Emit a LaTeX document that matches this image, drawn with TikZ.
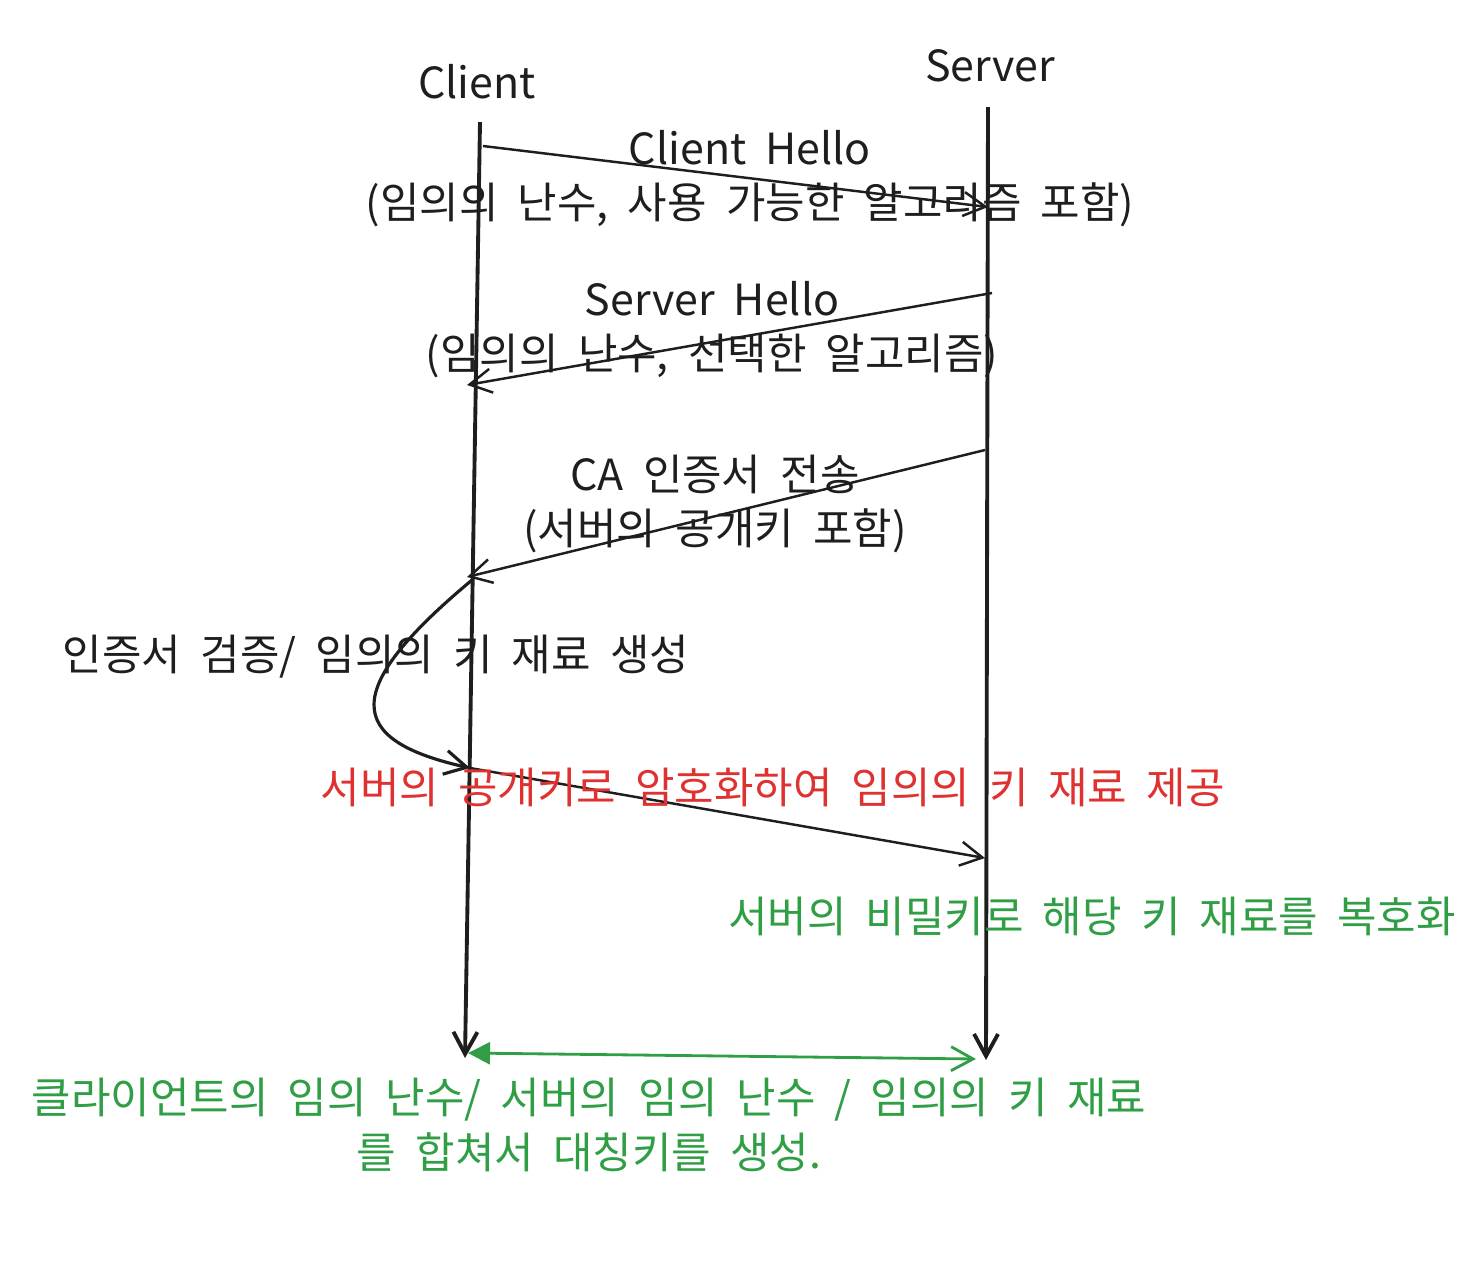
\documentclass[tikz,border=0pt]{standalone}
\usepackage{fontspec}
\setmainfont{Noto Sans CJK KR}[WordSpace=2.0]
\usetikzlibrary{arrows.meta}
\definecolor{inkblack}{HTML}{1E1E1E}
\definecolor{inkred}{HTML}{E03131}
\definecolor{inkgreen}{HTML}{2F9E44}
\tikzset{
  actor/.style={font=\fontsize{12.2}{15}\selectfont, text=inkblack},
  msglabel/.style={font=\fontsize{12.2}{15.4}\selectfont, align=center, text=inkblack, inner sep=0pt},
  lifeline/.style={draw=inkblack, line width=1.1pt, -{Straight Barb[length=2.2mm,width=2.4mm]}},
  msg/.style={draw=inkblack, line width=0.7pt, -{Straight Barb[length=2.2mm,width=2.4mm]}},
}
\begin{document}
\begin{tikzpicture}[x=0.01cm, y=-0.01cm]
\useasboundingbox (0,0) rectangle (1466,1278);
% actors
\node[actor] (client) at (477,82) {Client};
\node[actor] (server) at (990,66) {Server};
\coordinate (cTop) at (480,122);
\coordinate (cBot) at (465,1058);
\coordinate (sTop) at (988,107);
\coordinate (sBot) at (986,1060);
\draw[lifeline] (cTop) -- (cBot);
\draw[lifeline] (sTop) -- (sBot);
% messages
\coordinate (m1a) at (483,146);
\coordinate (m1b) at (988,207);
\coordinate (m2a) at (992,293);
\coordinate (m2b) at (467,385);
\coordinate (m3a) at (985,450);
\coordinate (m3b) at (467,577);
\coordinate (m4a) at (470,768);
\coordinate (m4b) at (985,858);
\draw[msg] (m1a) -- (m1b);
\draw[msg] (m2a) -- (m2b);
\draw[msg] (m3a) -- (m3b);
\draw[msg, line width=0.9pt] (472,580) .. controls (340,690) and (345,740) .. (m4a);
\draw[msg] (m4a) -- (m4b);
\node[msglabel] (hello1) at (750,179) {Client Hello\\(임의의 난수, 사용 가능한 알고리즘 포함)};
\node[msglabel] (hello2) at (712,330) {Server Hello\\(임의의 난수, 선택한 알고리즘)};
\node[msglabel] (cert) at (715,504) {CA 인증서 전송\\(서버의 공개키 포함)};
\node[msglabel] (verify) at (376,657) {인증서 검증/ 임의의 키 재료 생성};
\node[msglabel, text=inkred] (encrypt) at (773,787) {서버의 공개키로 암호화하여 임의의 키 재료 제공};
\node[msglabel, text=inkgreen] (decrypt) at (1092,916) {서버의 비밀키로 해당 키 재료를 복호화};
% symmetric key
\coordinate (kA) at (468,1053);
\coordinate (kB) at (976,1059);
\draw[draw=inkgreen, line width=0.8pt, {Triangle[length=2.2mm,width=2.2mm]}-{Straight Barb[length=2.2mm,width=2.4mm]}] (kA) -- (kB);
\node[msglabel, text=inkgreen] (symkey) at (589,1125) {클라이언트의 임의 난수/ 서버의 임의 난수 / 임의의 키 재료\\를 합쳐서 대칭키를 생성.};
\end{tikzpicture}
\end{document}
